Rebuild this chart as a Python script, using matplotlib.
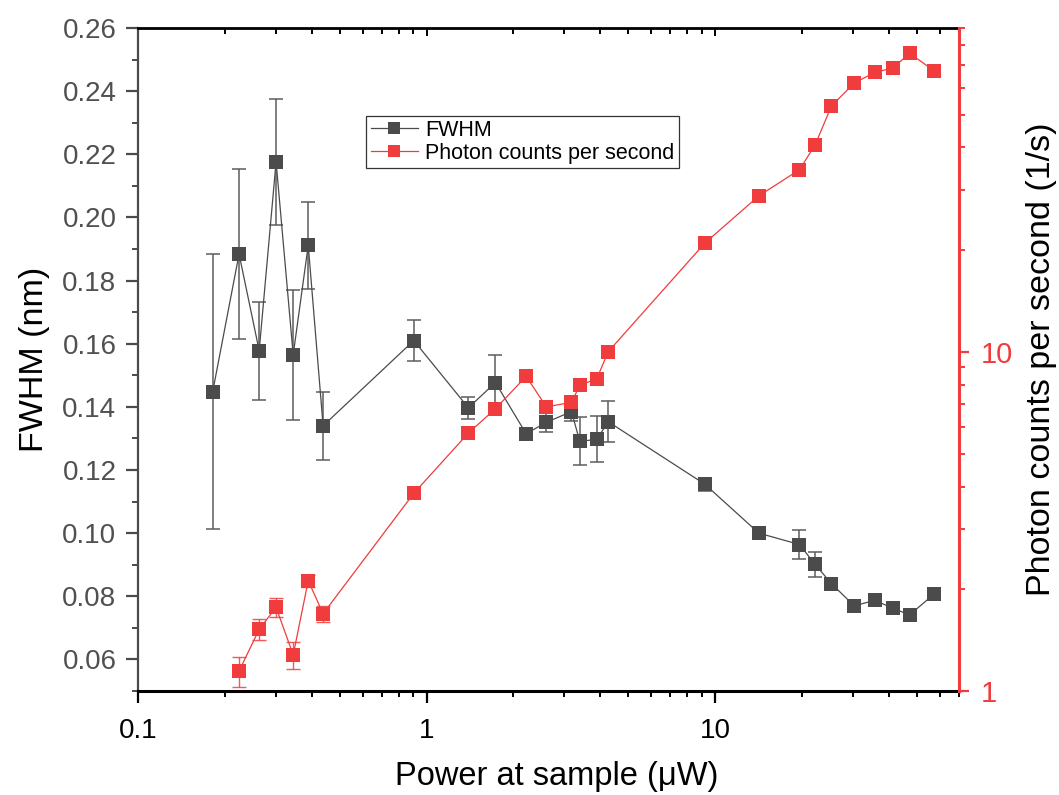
#!/usr/bin/env python3
"""FWHM and photon count rate versus excitation power (twin-axis figure)."""

import matplotlib

matplotlib.use('Agg')
from matplotlib import pyplot as plt  # noqa: E402
from matplotlib.lines import Line2D  # noqa: E402
from matplotlib.ticker import LogLocator, MultipleLocator, NullFormatter  # noqa: E402
import numpy as np  # noqa: E402


# power at sample (uW), shared by both series
power = [0.1815, 0.224, 0.263, 0.301, 0.345, 0.389, 0.438, 0.903, 1.396, 1.732,
         2.213, 2.602, 3.177, 3.396, 3.89, 4.26, 9.21, 14.17, 19.6, 22.2,
         25.3, 30.3, 35.8, 41.3, 47.2, 57.5]

fwhm = [0.1448, 0.1884, 0.1578, 0.2176, 0.1565, 0.1912, 0.1340, 0.1610, 0.1397, 0.1477,
        0.1315, 0.1351, 0.1385, 0.1291, 0.1297, 0.1353, 0.1155, 0.1000, 0.0964, 0.0901,
        0.0840, 0.0770, 0.0787, 0.0762, 0.0741, 0.0808]
fwhm_err = [0.0436, 0.0270, 0.0155, 0.0200, 0.0206, 0.0138, 0.0107, 0.0065, 0.0035, 0.0086,
            0.0015, 0.0030, 0.0030, 0.0076, 0.0073, 0.0065, 0.0020, 0.0017, 0.0045, 0.0040,
            0.0010, 0.0015, 0.0010, 0.0010, 0.0010, 0.0010]

# photon counts start at the second power value
power_counts = power[1:]
counts = [1.145, 1.52, 1.765, 1.277, 2.114, 1.69, 3.825, 5.76, 6.79, 8.46,
          6.88, 7.09, 7.96, 8.33, 10.0, 20.9, 28.8, 34.4, 40.7, 53.0,
          61.9, 66.6, 68.6, 75.8, 67.2]
counts_err = [0.115, 0.11, 0.117, 0.117, 0.09, 0.09] + [0.0] * 19

GREY = '#4b4b4b'
RED = '#f03c3c'


def main() -> None:
    plt.rcParams.update({
        'font.family': ['Liberation Sans', 'DejaVu Sans'],
        'font.size': 18,
    })
    figure = plt.figure(figsize=(10.59, 7.95), dpi=100)
    axis = figure.add_axes([0.1303, 0.1308, 0.7753, 0.834])
    axis_counts = axis.twinx()

    # FWHM series (left, linear)
    axis.errorbar(power, fwhm, yerr=fwhm_err, fmt='none', ecolor='#5c5c5c',
                  elinewidth=1.1, capsize=4.7, capthick=1.1, zorder=2)
    axis.plot(power, fwhm, color=GREY, linewidth=0.9, marker='s', markersize=9.6,
              markeredgewidth=0, zorder=3)

    # photon counts (right, log)
    err = np.asarray(counts_err)
    keep = err > 0
    axis_counts.errorbar(np.asarray(power_counts)[keep], np.asarray(counts)[keep],
                         yerr=err[keep], fmt='none', ecolor=RED, elinewidth=1.0,
                         capsize=4.7, capthick=1.0, alpha=0.85, zorder=2)
    axis_counts.plot(power_counts, counts, color=RED, linewidth=0.9, marker='s',
                     markersize=9.6, markeredgewidth=0, zorder=3)

    axis.set_xscale('log')
    axis.set_xlim(0.1, 70)
    axis.set_ylim(0.05, 0.26)
    axis.yaxis.set_major_locator(MultipleLocator(0.02))
    axis.yaxis.set_minor_locator(MultipleLocator(0.01))
    axis.set_yticks(np.arange(0.06, 0.261, 0.02))
    axis.set_yticklabels([f'{v:.2f}' for v in np.arange(0.06, 0.261, 0.02)])
    axis.set_xticks([0.1, 1, 10])
    axis.set_xticklabels(['0.1', '1', '10'])
    axis.xaxis.set_minor_locator(LogLocator(base=10, subs=np.arange(2, 10)))
    axis.xaxis.set_minor_formatter(NullFormatter())

    axis_counts.set_yscale('log')
    axis_counts.set_ylim(1, 90)
    axis_counts.set_yticks([1, 10])
    axis_counts.set_yticklabels(['1', '10'])
    axis_counts.yaxis.set_minor_locator(LogLocator(base=10, subs=np.arange(2, 10)))
    axis_counts.yaxis.set_minor_formatter(NullFormatter())

    # spines and ticks
    axis.spines['bottom'].set_linewidth(2.2)
    axis.spines['bottom'].set_color('black')
    axis.spines['top'].set_linewidth(2.0)
    axis.spines['top'].set_color('black')
    axis.spines['left'].set_linewidth(1.6)
    axis.spines['left'].set_color(GREY)
    axis.spines['right'].set_visible(False)
    axis_counts.spines['right'].set_linewidth(2.2)
    axis_counts.spines['right'].set_color(RED)
    for side in ('left', 'top', 'bottom'):
        axis_counts.spines[side].set_visible(False)

    axis.tick_params(axis='x', which='major', direction='out', length=8.5, width=1.6,
                     color='black', labelcolor='black', pad=11, labelsize=20)
    axis.tick_params(axis='x', which='minor', direction='out', length=4.3, width=1.4,
                     color='black')
    axis.tick_params(axis='y', which='major', direction='out', length=8.5, width=1.6,
                     color=GREY, labelcolor='#505050', pad=7, labelsize=20)
    axis.tick_params(axis='y', which='minor', direction='out', length=4.0, width=1.4,
                     color=GREY)
    axis_counts.tick_params(axis='y', which='major', direction='out', length=7.5,
                            width=1.6, color=RED, labelcolor=RED, pad=8, labelsize=21)
    axis_counts.tick_params(axis='y', which='minor', direction='out', length=4.5,
                            width=1.4, color=RED)

    top = axis.secondary_xaxis('top')
    top.set_xticks([0.1, 1, 10])
    top.xaxis.set_minor_locator(LogLocator(base=10, subs=np.arange(2, 10)))
    top.xaxis.set_minor_formatter(NullFormatter())
    top.tick_params(which='both', direction='in', labeltop=False, color='black',
                    width=1.4)
    top.tick_params(which='major', length=6)
    top.tick_params(which='minor', length=4)
    top.spines['top'].set_visible(False)

    axis.set_xlabel('Power at sample (μW)', fontsize=23.5, labelpad=13)
    axis.xaxis.set_label_coords(0.51, -0.105)
    axis.set_ylabel('FWHM (nm)', fontsize=24.5, labelpad=9)
    axis_counts.set_ylabel('Photon counts per second (1/s)', fontsize=24.5)
    axis_counts.yaxis.set_label_coords(1.081, 0.5)

    handles = [
        Line2D([], [], color=GREY, linewidth=0.9, marker='s', markersize=8,
               markeredgewidth=0),
        Line2D([], [], color=RED, linewidth=0.9, marker='s', markersize=8,
               markeredgewidth=0),
    ]
    legend = axis_counts.legend(
        handles, ['FWHM', 'Photon counts per second'],
        loc='upper left', bbox_to_anchor=(0.278, 0.868), borderaxespad=0.0,
        fontsize=15.5, frameon=True, fancybox=False, edgecolor='black',
        handlelength=2.2, handletextpad=0.35, labelspacing=0.1, borderpad=0.2,
    )
    legend.get_frame().set_linewidth(0.9)

    figure.savefig('out.png', dpi=100)
    plt.close(figure)


if __name__ == '__main__':
    main()
